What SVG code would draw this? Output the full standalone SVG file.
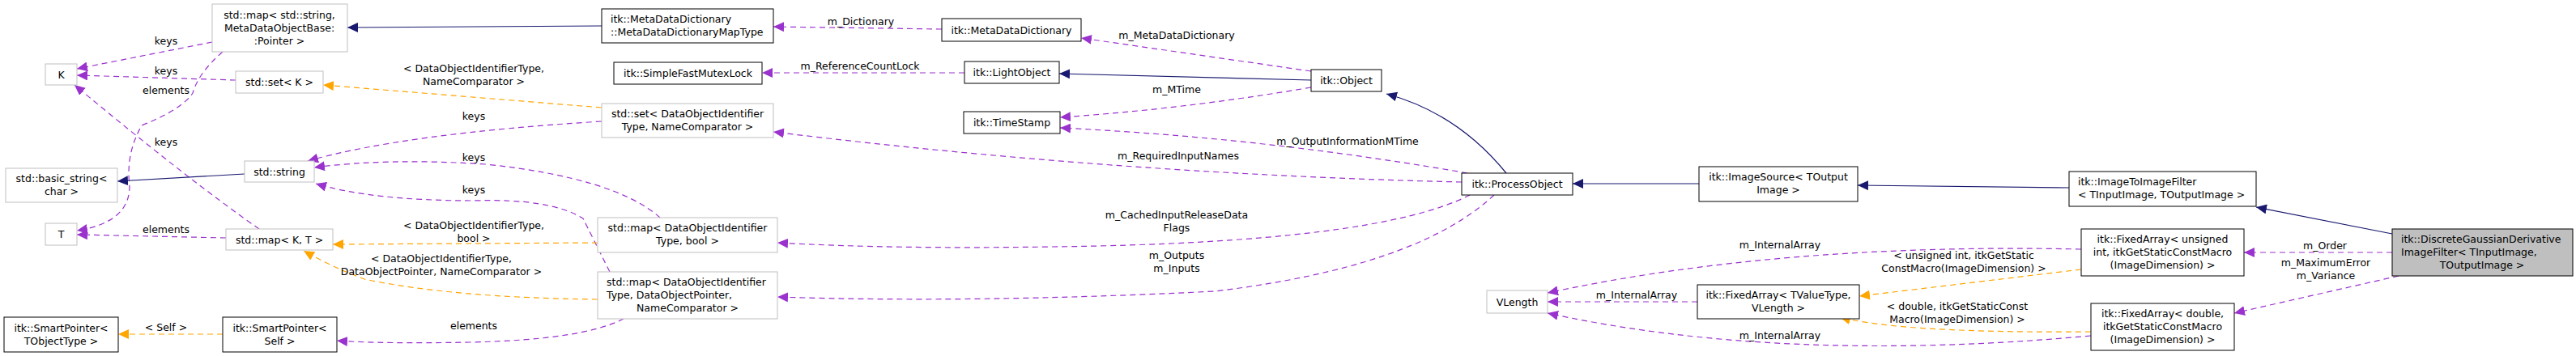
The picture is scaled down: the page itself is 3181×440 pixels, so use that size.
<svg xmlns="http://www.w3.org/2000/svg" width="3181" height="440" viewBox="0 0 3181 440">
<style>
text{font-family:"DejaVu Sans",sans-serif;font-size:12.5px;fill:#000}
.m{text-anchor:middle}
.g rect{fill:#fff;stroke:#bfbfbf;stroke-width:1}
.b rect{fill:#fff;stroke:#000;stroke-width:1}
.inh{fill:none;stroke:#191970;stroke-width:1.2;marker-end:url(#an)}
.use{fill:none;stroke:#9a32cd;stroke-width:1.2;stroke-dasharray:7,5;marker-end:url(#ap)}
.tpl{fill:none;stroke:#ffa500;stroke-width:1.2;stroke-dasharray:7,5;marker-end:url(#ao)}
</style>
<defs>
<marker id="an" markerUnits="userSpaceOnUse" markerWidth="14" markerHeight="12" refX="13" refY="6" orient="auto"><path d="M0,0L13,6L0,12z" fill="#191970"/></marker>
<marker id="ap" markerUnits="userSpaceOnUse" markerWidth="14" markerHeight="12" refX="13" refY="6" orient="auto"><path d="M0,0L13,6L0,12z" fill="#9a32cd"/></marker>
<marker id="ao" markerUnits="userSpaceOnUse" markerWidth="14" markerHeight="12" refX="13" refY="6" orient="auto"><path d="M0,0L13,6L0,12z" fill="#ffa500"/></marker>
</defs>
<rect width="3181" height="440" fill="#fff"/>
<g id="edges">
<path class="inh" d="M743,32L429,34"/>
<path class="use" d="M1163,36L955,33"/><text class="m" x="1063" y="31">m_Dictionary</text>
<path class="use" d="M1619,88L1335,47"/><text class="m" x="1453" y="48">m_MetaDataDictionary</text>
<path class="inh" d="M1619,99L1308,91"/>
<path class="use" d="M1191,90L941,90"/><text class="m" x="1062" y="86">m_ReferenceCountLock</text>
<path class="use" d="M1619,108Q1460,135 1309,145"/><text class="m" x="1453" y="115">m_MTime</text>
<path class="use" d="M1812,214Q1560,170 1309,158"/><text class="m" x="1664" y="179">m_OutputInformationMTime</text>
<path class="inh" d="M1860,214Q1800,140 1712,116"/>
<path class="use" d="M1805,225Q1380,215 955,163"/><text class="m" x="1455" y="197">m_RequiredInputNames</text>
<path class="use" d="M1815,241Q1700,300 1300,305Q1100,308 960,300"/><text class="m" x="1453" y="270">m_CachedInputReleaseData</text><text class="m" x="1453" y="286">Flags</text>
<path class="use" d="M1845,241Q1750,330 1500,360Q1200,375 960,367"/><text class="m" x="1453" y="320">m_Outputs</text><text class="m" x="1453" y="336">m_Inputs</text>
<path class="inh" d="M2098,227L1942,227"/>
<path class="inh" d="M2555,232L2294,229"/>
<path class="inh" d="M2954,289L2786,256"/>
<path class="use" d="M2954,312L2771,312"/><text class="m" x="2871" y="308">m_Order</text>
<path class="use" d="M2962,341L2759,387"/><text class="m" x="2872" y="329">m_MaximumError</text><text class="m" x="2872" y="345">m_Variance</text>
<path class="use" d="M2570,308Q2200,300 1911,362"/><text class="m" x="2198" y="307">m_InternalArray</text>
<path class="use" d="M2096,373L1911,373"/><text class="m" x="2021" y="369">m_InternalArray</text>
<path class="use" d="M2582,415Q2200,450 1911,387"/><text class="m" x="2198" y="419">m_InternalArray</text>
<path class="tpl" d="M2570,333L2296,366"/><text class="m" x="2425" y="320">&lt; unsigned int, itkGetStatic</text><text class="m" x="2425" y="336">ConstMacro(ImageDimension) &gt;</text>
<path class="tpl" d="M2582,410Q2350,412 2272,392"/><text class="m" x="2417" y="383">&lt; double, itkGetStaticConst</text><text class="m" x="2417" y="399">Macro(ImageDimension) &gt;</text>
<path class="use" d="M262,52L95,85"/><text class="m" x="205" y="55">keys</text>
<path class="use" d="M291,99L95,93"/><text class="m" x="205" y="92">keys</text>
<path class="use" d="M275,64Q245,90 238,115Q225,135 175,155Q155,190 160,230Q160,275 95,285"/><text class="m" x="205" y="116">elements</text>
<path class="use" d="M320,283Q230,220 92,105"/><text class="m" x="205" y="180">keys</text>
<path class="use" d="M279,294L95,290"/><text class="m" x="205" y="288">elements</text>
<path class="inh" d="M302,215L145,224"/>
<path class="tpl" d="M743,133L399,105"/><text class="m" x="585" y="89">&lt; DataObjectIdentifierType,</text><text class="m" x="585" y="105">NameComparator &gt;</text>
<path class="use" d="M743,150Q500,165 380,199"/><text class="m" x="585" y="148">keys</text>
<path class="use" d="M815,269Q760,220 600,203Q480,195 388,207"/><text class="m" x="585" y="199">keys</text>
<path class="use" d="M753,336Q730,290 720,270Q680,245 585,248Q460,248 390,227"/><text class="m" x="585" y="239">keys</text>
<path class="tpl" d="M738,300L411,302"/><text class="m" x="585" y="283">&lt; DataObjectIdentifierType,</text><text class="m" x="585" y="299">bool &gt;</text>
<path class="tpl" d="M738,370Q560,368 450,345Q410,330 375,310"/><text class="m" x="545" y="324">&lt; DataObjectIdentifierType,</text><text class="m" x="545" y="340">DataObjectPointer, NameComparator &gt;</text>
<path class="use" d="M770,394Q720,420 580,423Q470,425 416,421"/><text class="m" x="585" y="407">elements</text>
<path class="tpl" d="M275,413L146,413"/><text class="m" x="205" y="409">&lt; Self &gt;</text>
</g>
<g id="n1" class="g"><rect x="262" y="5" width="167" height="59"/><text class="m" x="345" y="23">std::map&lt; std::string,</text><text class="m" x="345" y="39">MetaDataObjectBase:</text><text class="m" x="345" y="55">:Pointer &gt;</text></g>
<g id="n2" class="g"><rect x="56" y="79" width="39" height="26"/><text class="m" x="75.5" y="96.5">K</text></g>
<g id="n3" class="g"><rect x="291" y="88" width="108" height="27"/><text class="m" x="345" y="106">std::set&lt; K &gt;</text></g>
<g id="n4" class="g"><rect x="7" y="208" width="138" height="42"/><text class="m" x="76" y="225">std::basic_string&lt;</text><text class="m" x="76" y="241">char &gt;</text></g>
<g id="n5" class="g"><rect x="302" y="199" width="86" height="26"/><text class="m" x="345" y="216.5">std::string</text></g>
<g id="n6" class="g"><rect x="56" y="276" width="39" height="27"/><text class="m" x="75.5" y="294">T</text></g>
<g id="n7" class="g"><rect x="279" y="283" width="132" height="26"/><text class="m" x="345" y="300.5">std::map&lt; K, T &gt;</text></g>
<g id="n8" class="b"><rect x="5" y="392" width="141" height="43"/><text class="m" x="75.5" y="410">itk::SmartPointer&lt;</text><text class="m" x="75.5" y="426">TObjectType &gt;</text></g>
<g id="n9" class="b"><rect x="275" y="392" width="141" height="43"/><text class="m" x="345.5" y="410">itk::SmartPointer&lt;</text><text class="m" x="345.5" y="426">Self &gt;</text></g>
<g id="n10" class="b"><rect x="743" y="11" width="212" height="42"/><text x="754" y="28">itk::MetaDataDictionary</text><text x="754" y="44">::MetaDataDictionaryMapType</text></g>
<g id="n11" class="b"><rect x="758" y="77" width="183" height="27"/><text class="m" x="849.5" y="95">itk::SimpleFastMutexLock</text></g>
<g id="n12" class="g"><rect x="743" y="128" width="212" height="42"/><text class="m" x="849" y="145">std::set&lt; DataObjectIdentifier</text><text class="m" x="849" y="161">Type, NameComparator &gt;</text></g>
<g id="n13" class="g"><rect x="738" y="269" width="222" height="43"/><text class="m" x="849" y="286">std::map&lt; DataObjectIdentifier</text><text class="m" x="849" y="302">Type, bool &gt;</text></g>
<g id="n14" class="g"><rect x="738" y="336" width="222" height="58"/><text x="749" y="353">std::map&lt; DataObjectIdentifier</text><text x="749" y="369">Type, DataObjectPointer,</text><text class="m" x="849" y="385">NameComparator &gt;</text></g>
<g id="n15" class="b"><rect x="1163" y="23" width="172" height="28"/><text class="m" x="1249" y="41.5">itk::MetaDataDictionary</text></g>
<g id="n16" class="b"><rect x="1191" y="76" width="117" height="27"/><text class="m" x="1249.5" y="94">itk::LightObject</text></g>
<g id="n17" class="b"><rect x="1619" y="86" width="87" height="27"/><text class="m" x="1662.5" y="104">itk::Object</text></g>
<g id="n18" class="b"><rect x="1190" y="138" width="119" height="27"/><text class="m" x="1249.5" y="156">itk::TimeStamp</text></g>
<g id="n19" class="b"><rect x="1805" y="214" width="137" height="27"/><text class="m" x="1873.5" y="232">itk::ProcessObject</text></g>
<g id="n20" class="g"><rect x="1836" y="359" width="75" height="28"/><text class="m" x="1873.5" y="377.5">VLength</text></g>
<g id="n21" class="b"><rect x="2098" y="206" width="196" height="43"/><text class="m" x="2196" y="223">itk::ImageSource&lt; TOutput</text><text class="m" x="2196" y="239">Image &gt;</text></g>
<g id="n22" class="b"><rect x="2096" y="352" width="200" height="42"/><text class="m" x="2196" y="369">itk::FixedArray&lt; TValueType,</text><text class="m" x="2196" y="385">VLength &gt;</text></g>
<g id="n23" class="b"><rect x="2555" y="212" width="231" height="43"/><text x="2566" y="229">itk::ImageToImageFilter</text><text x="2566" y="245">&lt; TInputImage, TOutputImage &gt;</text></g>
<g id="n24" class="b"><rect x="2570" y="283" width="201" height="58"/><text class="m" x="2670.5" y="300">itk::FixedArray&lt; unsigned</text><text class="m" x="2670.5" y="316">int, itkGetStaticConstMacro</text><text class="m" x="2670.5" y="332">(ImageDimension) &gt;</text></g>
<g id="n25" class="b"><rect x="2582" y="375" width="177" height="58"/><text class="m" x="2670.5" y="392">itk::FixedArray&lt; double,</text><text class="m" x="2670.5" y="408">itkGetStaticConstMacro</text><text class="m" x="2670.5" y="424">(ImageDimension) &gt;</text></g>
<g id="n26" class="b"><rect x="2954" y="283" width="223" height="58" style="fill:#bfbfbf"/><text x="2965" y="300">itk::DiscreteGaussianDerivative</text><text x="2965" y="316">ImageFilter&lt; TInputImage,</text><text class="m" x="3065" y="332">TOutputImage &gt;</text></g>
</svg>
